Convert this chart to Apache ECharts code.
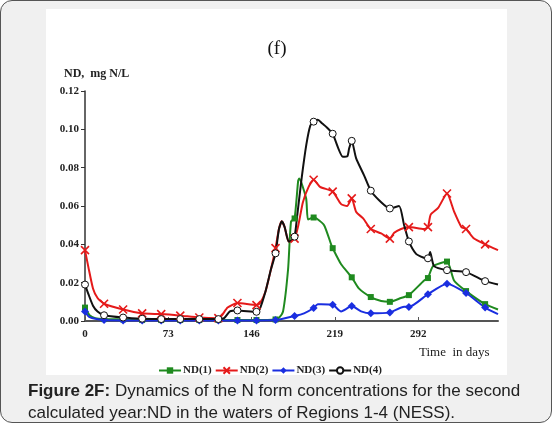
<!DOCTYPE html>
<html>
<head>
<meta charset="utf-8">
<script src="https://cdn.jsdelivr.net/npm/echarts@6/dist/echarts.min.js"></script>
<style>
  html, body { margin: 0; padding: 0; background: #fff; }
  #frame {
    position: relative; width: 552px; height: 423px; box-sizing: border-box;
    border: 1.5px solid #555; border-radius: 12px; background: #f0f0f0; overflow: hidden;
  }
  #chart { position: absolute; left: 0; top: 0; width: 552px; height: 423px; }
  #caption {
    position: absolute; left: 27px; top: 379px; width: 522px;
    font-family: "Liberation Sans", Arial, sans-serif; font-size: 17px; line-height: 22px; color: #222;
  }
</style>
</head>
<body>
<div id="frame">
  <div id="chart"></div>
  <div id="caption"><b>Figure 2F:</b> Dynamics of the N form concentrations for the second calculated year:ND in the waters of Regions 1-4 (NESS).</div>
</div>
<script>
// days where the markers sit (same for all four curves)
const markDays = [0, 16.7, 33.4, 50.1, 66.8, 83.5, 100.2, 116.9, 133.6, 150.3, 167, 183.7,
  200.4, 217.1, 233.8, 250.5, 267.2, 283.9, 300.6, 317.3, 334, 350.7];
const xTicks = [0, 73, 146, 219, 292];
const seriesNames = ['ND(1)', 'ND(2)', 'ND(3)', 'ND(4)'];

// ND(1) green
const nd1Marks = [0.007, 0.001, 0.0008, 0.0005, 0.0005, 0.0005, 0.0005, 0.0005, 0.0005, 0.0005, 0.0008, 0.0535,
  0.054, 0.038, 0.0228, 0.0125, 0.010, 0.0135, 0.0224, 0.031, 0.0156, 0.0088];
const nd1Line = [[4, 0.003], [9, 0.0015], [170, 0.0016], [173.6, 0.005], [178, 0.027], [180.6, 0.052],
  [186.8, 0.073], [187.7, 0.0743], [193.8, 0.064], [195.5, 0.053], [203, 0.0535], [209.6, 0.050],
  [215.7, 0.040], [224.5, 0.0296], [240, 0.017], [259.6, 0.0104], [277, 0.012], [297, 0.021],
  [305, 0.0286], [323.6, 0.021], [362, 0.006]];

// ND(2) red
const nd2Marks = [0.037, 0.009, 0.006, 0.004, 0.0036, 0.0028, 0.0018, 0.0015, 0.0094, 0.0083, 0.038, 0.043,
  0.0737, 0.0675, 0.064, 0.048, 0.043, 0.049, 0.049, 0.0665, 0.048, 0.040];
const nd2Line = [[3, 0.028], [7, 0.017], [11, 0.012], [120, 0.003], [125, 0.007], [153, 0.009], [158, 0.015],
  [163, 0.027], [170, 0.048], [172.5, 0.052], [175, 0.049], [178.5, 0.0415], [181, 0.042], [187, 0.05],
  [191, 0.062], [196, 0.070], [206, 0.070], [224.5, 0.061], [229.7, 0.060], [237.6, 0.057], [243.8, 0.0535],
  [259.6, 0.0457], [271, 0.046], [277, 0.048], [297, 0.048], [303, 0.0555], [309.5, 0.059], [323.6, 0.057],
  [330, 0.049], [341, 0.043], [362, 0.037]];

// ND(3) blue
const nd3Marks = [0.005, 0.0005, 0.0003, 0.0003, 0.0003, 0.0003, 0.0003, 0.0003, 0.0003, 0.0003, 0.0005, 0.0026,
  0.0068, 0.0085, 0.0078, 0.004, 0.0045, 0.0073, 0.014, 0.0195, 0.0146, 0.007];
const nd3Line = [[4, 0.002], [192, 0.004], [204, 0.0088], [207, 0.0088], [224.5, 0.005], [242, 0.005],
  [279.7, 0.0075], [362, 0.0036]];

// ND(4) black
const nd4Marks = [0.019, 0.003, 0.0018, 0.0012, 0.001, 0.001, 0.001, 0.001, 0.0055, 0.0048, 0.0353, 0.044,
  0.104, 0.0977, 0.094, 0.068, 0.0587, 0.0415, 0.0327, 0.0265, 0.0255, 0.0208];
const nd4Line = [[3, 0.014], [7, 0.008], [11, 0.005], [122, 0.0015], [127, 0.005], [153, 0.006], [158, 0.015],
  [163, 0.027], [170, 0.048], [172.5, 0.052], [175, 0.049], [178.5, 0.0415], [181, 0.042], [186, 0.055],
  [190, 0.075], [194, 0.092], [197.5, 0.102], [204, 0.105], [208, 0.103], [212, 0.101], [226, 0.0857],
  [230, 0.086], [231.5, 0.09], [237.6, 0.085], [244.6, 0.076], [259.6, 0.062], [275.3, 0.060], [279.7, 0.050],
  [290.2, 0.035], [297, 0.033], [302.5, 0.036], [306, 0.0286], [362, 0.019]];

function build(marks, line) {
  const pts = markDays.map((d, i) => ({ value: [d, marks[i]] }));
  line.forEach(p => pts.push({ value: p, symbol: 'none' }));
  return pts.sort((a, b) => a.value[0] - b.value[0]);
}

const serif = '"Liberation Serif", "Times New Roman", serif';
const crossPath = 'path://M0,0L10,10M10,0L0,10';

const styles = [
  { color: '#1f8a1f', symbol: 'rect', size: 6, item: { color: '#1f8a1f' } },
  { color: '#e51a1a', symbol: crossPath, size: 8, item: { color: 'rgba(0,0,0,0)', borderColor: '#e51a1a', borderWidth: 1.6 } },
  { color: '#1a2ee0', symbol: 'diamond', size: 8, item: { color: '#1a2ee0' } },
  { color: '#111', symbol: 'circle', size: 7, item: { color: '#fff', borderColor: '#111', borderWidth: 1 } }
];
const datasets = [build(nd1Marks, nd1Line), build(nd2Marks, nd2Line), build(nd3Marks, nd3Line), build(nd4Marks, nd4Line)];

const chart = echarts.init(document.getElementById('chart'));
chart.setOption({
  animation: false,
  title: {
    text: '(f)', left: 'center', top: 34,
    textStyle: { fontFamily: serif, fontSize: 19, fontWeight: 'normal', color: '#111' }
  },
  graphic: [
    { type: 'rect', z: -10, shape: { x: 45, y: 8, width: 461, height: 366 }, style: { fill: '#fff' } },
    { type: 'text', left: 63, top: 67, style: { text: 'ND,  mg N/L', font: 'bold 12px ' + serif, fill: '#222' } },
    { type: 'text', left: 418, top: 345, style: { text: 'Time  in days', font: '13px ' + serif, fill: '#222' } }
  ],
  legend: {
    left: 152, top: 359, itemWidth: 22, itemHeight: 8, itemGap: 3,
    textStyle: { fontFamily: serif, fontSize: 11, fontWeight: 'bold', color: '#222', padding: [0, 0, 0, -3] },
    data: seriesNames
  },
  grid: { left: 84, top: 90, right: 55, bottom: 103 },
  xAxis: {
    type: 'value', min: 0, max: 362, interval: 73,
    axisLine: { lineStyle: { color: '#555', width: 2 } },
    axisTick: { inside: true, length: 4, lineStyle: { color: '#555' } },
    axisLabel: {
      margin: 8, showMaxLabel: false, fontFamily: serif, fontSize: 11, fontWeight: 'bold', color: '#222',
      formatter: v => xTicks.includes(v) ? String(v) : ''
    },
    splitLine: { show: false }
  },
  yAxis: {
    type: 'value', min: 0, max: 0.12, interval: 0.02,
    axisLine: { show: true, lineStyle: { color: '#333', width: 1.5 } },
    axisTick: { show: true, length: 4, lineStyle: { color: '#333' } },
    axisLabel: { margin: 6, fontFamily: serif, fontSize: 11, fontWeight: 'bold', color: '#222', formatter: v => v.toFixed(2) },
    splitLine: { show: false }
  },
  series: seriesNames.map((name, i) => ({
    name: name, type: 'line', data: datasets[i], smooth: 0.2,
    symbol: styles[i].symbol, symbolSize: styles[i].size, showAllSymbol: true,
    lineStyle: { color: styles[i].color, width: 2 },
    itemStyle: styles[i].item,
    color: styles[i].color
  }))
});
</script>
</body>
</html>
